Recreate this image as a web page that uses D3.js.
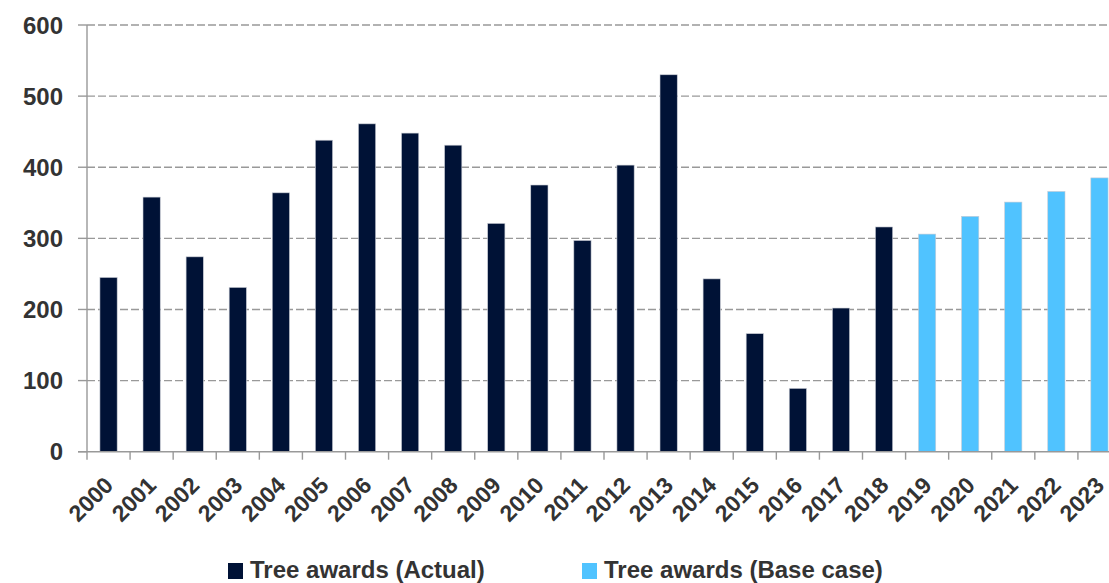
<!DOCTYPE html>
<html>
<head>
<meta charset="utf-8">
<script src="https://cdn.jsdelivr.net/npm/d3@7"></script>
<style>
  html, body { margin: 0; padding: 0; background: #fff; }
  svg { display: block; font-family: "Liberation Sans", Arial, sans-serif; }
</style>
</head>
<body>
<svg id="chart" width="1109" height="583"></svg>
<script>
var years = ["2000","2001","2002","2003","2004","2005","2006","2007","2008","2009","2010","2011",
             "2012","2013","2014","2015","2016","2017","2018","2019","2020","2021","2022","2023"];
var actual = [245, 358, 274, 231, 364, 438, 461, 448, 431, 321, 375, 297,
              403, 530, 243, 166, 89, 202, 316, null, null, null, null, null];
var baseCase = [null, null, null, null, null, null, null, null, null, null, null, null,
                null, null, null, null, null, null, null, 306, 331, 351, 366, 385];
var yTicks = [0, 100, 200, 300, 400, 500, 600];
var seriesNames = ["Tree awards (Actual)", "Tree awards (Base case)"];
var seriesColors = ["#001236", "#50C3FF"];

var svg = d3.select("#chart"),
	width = +svg.attr("width"),
	plotLeft = 87, plotRight = 1121, plotTop = 25, plotBottom = 451.7,
	grey = "#999";

var x = d3.scaleBand().domain(years).range([plotLeft, plotRight]).paddingInner(0.6).paddingOuter(0.3);
var y = d3.scaleLinear().domain([0, 600]).range([plotBottom, plotTop]);

// gridlines (dashed)
svg.append("g").selectAll("line")
	.data(yTicks.filter(function(d) { return d > 0; }))
	.enter().append("line")
	.attr("x1", plotLeft).attr("x2", width)
	.attr("y1", function(d) { return y(d); }).attr("y2", function(d) { return y(d); })
	.attr("stroke", grey).attr("stroke-width", 1.4).attr("stroke-dasharray", "8,3");

// y tick marks outside the axis
svg.append("g").selectAll("line")
	.data(yTicks)
	.enter().append("line")
	.attr("x1", 78).attr("x2", plotLeft)
	.attr("y1", function(d) { return y(d); }).attr("y2", function(d) { return y(d); })
	.attr("stroke", grey).attr("stroke-width", 1.4);

// bars
function drawBars(values, color) {
	svg.append("g").selectAll("rect")
		.data(years.map(function(yr, i) { return { year: yr, v: values[i] }; })
			.filter(function(d) { return d.v != null; }))
		.enter().append("rect")
		.attr("x", function(d) { return x(d.year); })
		.attr("width", x.bandwidth())
		.attr("y", function(d) { return y(d.v); })
		.attr("height", function(d) { return plotBottom - y(d.v); })
		.attr("fill", color)
		.attr("stroke", "#c8ccd4").attr("stroke-width", 0.6);
}
drawBars(actual, seriesColors[0]);
drawBars(baseCase, seriesColors[1]);

// axis lines
svg.append("line").attr("x1", plotLeft).attr("x2", plotLeft).attr("y1", plotTop).attr("y2", plotBottom)
	.attr("stroke", grey).attr("stroke-width", 1.4);
svg.append("line").attr("x1", 78).attr("x2", width).attr("y1", plotBottom).attr("y2", plotBottom)
	.attr("stroke", grey).attr("stroke-width", 1.4);

// x tick marks at band boundaries
var gap = (x.step() - x.bandwidth()) / 2;
svg.append("g").selectAll("line")
	.data(years)
	.enter().append("line")
	.attr("x1", function(d) { return x(d) - gap; })
	.attr("x2", function(d) { return x(d) - gap; })
	.attr("y1", plotBottom).attr("y2", plotBottom + 8)
	.attr("stroke", grey).attr("stroke-width", 1.4);

// y labels
svg.append("g").selectAll("text")
	.data(yTicks)
	.enter().append("text")
	.attr("x", 63)
	.attr("y", function(d) { return y(d) + 8.5; })
	.attr("text-anchor", "end")
	.attr("font-size", 24).attr("font-weight", "bold").attr("fill", "#333")
	.text(function(d) { return d; });

// x labels, rotated
svg.append("g").selectAll("text")
	.data(years)
	.enter().append("text")
	.attr("text-anchor", "end")
	.attr("font-size", 23).attr("font-weight", "bold").attr("fill", "#333")
	.attr("transform", function(d) {
		return "translate(" + (x(d) + x.bandwidth() / 2 + 6) + "," + (plotBottom + 35) + ") rotate(-45)";
	})
	.text(function(d) { return d; });

// legend
var legendX = [228, 582];
seriesNames.forEach(function(name, i) {
	svg.append("rect").attr("x", legendX[i]).attr("y", 563)
		.attr("width", 15).attr("height", 16).attr("fill", seriesColors[i]);
	svg.append("text").attr("x", legendX[i] + 22).attr("y", 578)
		.attr("font-size", 24).attr("font-weight", "bold").attr("fill", "#333")
		.text(name);
});
</script>
</body>
</html>
